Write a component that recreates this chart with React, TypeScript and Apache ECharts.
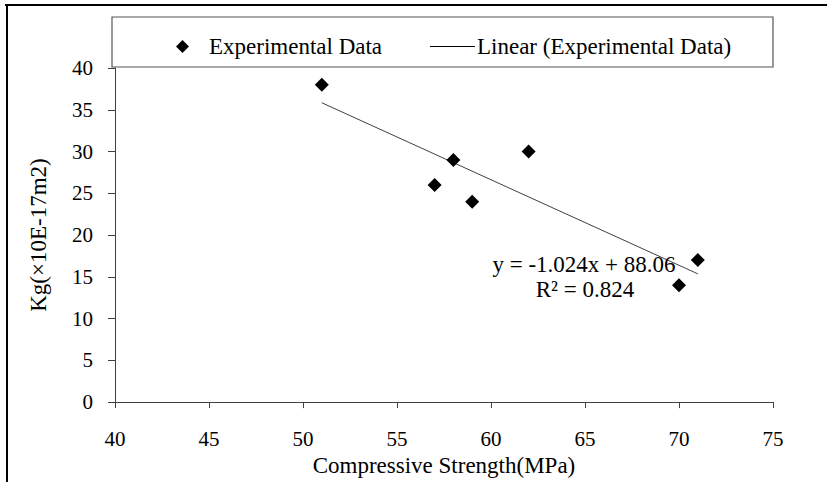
import React, { useEffect, useRef } from "react";
import * as echarts from "echarts";

const strength = [51, 57, 58, 59, 62, 70, 71];
const permeability = [38, 26, 29, 24, 30, 14, 17];
const slope = -1.024;
const intercept = 88.06;
const rSquared = 0.824;
const xTicks = { min: 40, max: 75, interval: 5 };
const yTicks = { min: 0, max: 40, interval: 5 };

const FONT = "Liberation Serif";

export default function App() {
  const ref = useRef<HTMLDivElement>(null);
  useEffect(() => {
    if (!ref.current) return;
    const chart = echarts.init(ref.current, undefined, { renderer: "svg" });
    const points = strength.map((x, i) => [x, permeability[i]]);
    const xMinData = Math.min(...strength);
    const xMaxData = Math.max(...strength);
    const trend = [xMinData, xMaxData].map((x) => [x, slope * x + intercept]);
    const axisLine = { lineStyle: { color: "#404040", width: 1 } };
    chart.setOption({
      animation: false,
      backgroundColor: "#fff",
      textStyle: { fontFamily: FONT },
      grid: { left: 115, right: 54, top: 68, bottom: 77, containLabel: false },
      xAxis: {
        type: "value",
        min: xTicks.min,
        max: xTicks.max,
        interval: xTicks.interval,
        name: "Compressive Strength(MPa)",
        nameLocation: "middle",
        nameGap: 49,
        nameTextStyle: { fontFamily: FONT, fontSize: 23, color: "#000" },
        axisLine,
        axisTick: { show: true, length: 6, lineStyle: { color: "#404040" } },
        axisLabel: { margin: 26, fontFamily: FONT, fontSize: 21, color: "#000" },
        splitLine: { show: false },
      },
      yAxis: {
        type: "value",
        min: yTicks.min,
        max: yTicks.max,
        interval: yTicks.interval,
        name: "Kg(×10E-17m2)",
        nameLocation: "middle",
        nameGap: 65,
        nameTextStyle: { fontFamily: FONT, fontSize: 23, color: "#000" },
        axisLine: { show: true, ...axisLine },
        axisTick: { show: true, length: 7, lineStyle: { color: "#404040" } },
        axisLabel: { margin: 22, fontFamily: FONT, fontSize: 21, color: "#000" },
        splitLine: { show: false },
      },
      legend: [
        {
          data: [{ name: "Experimental Data", icon: "diamond", itemStyle: { color: "#000", opacity: 1, borderWidth: 0 } }],
          left: 171,
          top: 30,
          itemWidth: 13,
          itemHeight: 13,
          itemGap: 0,
          textStyle: { fontFamily: FONT, fontSize: 23, color: "#000", padding: [0, 0, 0, 15] },
        },
        {
          data: [{ name: "Linear (Experimental Data)", icon: "rect" }],
          left: 425,
          top: 30,
          itemWidth: 45,
          itemHeight: 1,
          itemGap: 0,
          itemStyle: { color: "#000" },
          textStyle: { fontFamily: FONT, fontSize: 23, color: "#000", padding: [0, 0, 0, -3] },
        },
      ],
      graphic: [
        {
          type: "rect",
          shape: { x: 112, y: 17, width: 661, height: 50 },
          style: { fill: "transparent", stroke: "#555", lineWidth: 1.2 },
          z: 10,
        },
        {
          type: "line",
          shape: { x1: 5, y1: 5, x2: 827, y2: 5 },
          style: { stroke: "#000", lineWidth: 2 },
        },
        {
          type: "line",
          shape: { x1: 7, y1: 5, x2: 7, y2: 482 },
          style: { stroke: "#000", lineWidth: 2 },
        },
        {
          type: "text",
          x: 584,
          y: 264,
          style: {
            text: `y = ${slope.toFixed(3)}x + ${intercept.toFixed(2)}`,
            fontFamily: FONT,
            fontSize: 23,
            fill: "#000",
            align: "center",
            verticalAlign: "middle",
          },
          z: 20,
        },
        {
          type: "text",
          x: 585,
          y: 289,
          style: {
            text: `R² = ${rSquared.toFixed(3)}`,
            fontFamily: FONT,
            fontSize: 23,
            fill: "#000",
            align: "center",
            verticalAlign: "middle",
          },
          z: 20,
        },
      ],
      series: [
        {
          name: "Experimental Data",
          type: "scatter",
          symbol: "diamond",
          symbolSize: 14,
          itemStyle: { color: "#000", opacity: 1, borderWidth: 0 },
          data: points,
          z: 5,
        },
        {
          name: "Linear (Experimental Data)",
          type: "line",
          symbol: "none",
          lineStyle: { color: "#404040", width: 1 },
          itemStyle: { color: "#000" },
          data: trend,
          z: 4,
        },
      ],
    });
    return () => chart.dispose();
  }, []);
  return (
    <div
      ref={ref}
      style={{ position: "fixed", left: 0, top: 0, width: 827, height: 482 }}
    />
  );
}
